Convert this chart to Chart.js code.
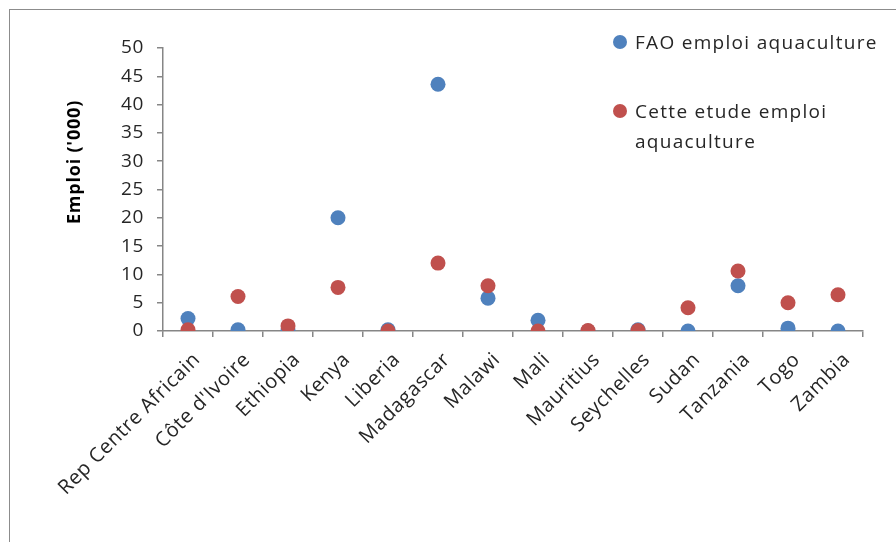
<!DOCTYPE html>
<html>
<head>
<meta charset="utf-8">
<script src="https://cdn.jsdelivr.net/npm/chart.js@4"></script>
<style>
  html, body { margin: 0; padding: 0; background: #fff; }
  #wrap { position: relative; width: 896px; height: 542px; overflow: hidden; }
  #frame { position: absolute; left: 9px; top: 9px; width: 1000px; height: 1000px;
           border: 1px solid #8c8c8c; box-sizing: border-box; }
  #chart { position: absolute; left: 0; top: 0; }
  .leg { position: absolute; font-family: 'Open Sans', sans-serif; font-size: 19px; letter-spacing: 1.3px;
         color: #262626; white-space: nowrap; }
  .dot { position: absolute; width: 14px; height: 14px; border-radius: 50%; }
</style>
</head>
<body>
<div id="wrap">
  <div id="frame"></div>
  <canvas id="chart" width="896" height="542"></canvas>
  <div class="dot" style="left:613px;top:35px;background:#4F81BD"></div>
  <div class="leg" id="leg1" style="left:635px;top:29px"></div>
  <div class="dot" style="left:613px;top:104px;background:#C0504D"></div>
  <div class="leg" id="leg2a" style="left:635px;top:98px"></div>
  <div class="leg" id="leg2b" style="left:635px;top:128px"></div>
</div>
<script>
// Countries on the category axis
const countries = ['Rep Centre Africain', "Côte d'Ivoire", 'Ethiopia', 'Kenya', 'Liberia',
  'Madagascar', 'Malawi', 'Mali', 'Mauritius', 'Seychelles', 'Sudan', 'Tanzania', 'Togo', 'Zambia'];

// Aquaculture employment, thousands of people
const faoEmploi   = [2.2, 0.2, 0.1, 20.0, 0.2, 43.6, 5.8, 1.9, 0.0, 0.2, 0.0, 8.0, 0.5, 0.0];
const etudeEmploi = [0.2, 6.1, 0.9, 7.7, 0.0, 12.0, 8.0, 0.0, 0.1, 0.1, 4.1, 10.6, 5.0, 6.4];

const seriesNames = ['FAO emploi aquaculture', 'Cette etude emploi aquaculture'];
const yTitle = "Emploi ('000)";
const yTicks = [0, 5, 10, 15, 20, 25, 30, 35, 40, 45, 50];

const BLUE = '#4F81BD';
const RED = '#C0504D';
const AXIS = '#868686';
const FONT = "'Open Sans', sans-serif";

// Legend text (second entry wraps onto two lines)
document.getElementById('leg1').textContent = seriesNames[0];
document.getElementById('leg2a').textContent = 'Cette etude emploi';
document.getElementById('leg2b').textContent = 'aquaculture';

// Slightly open letter spacing for the axis labels
const spacingPlugin = {
  id: 'spacing',
  beforeDraw(chart) { chart.ctx.letterSpacing = '0.6px'; }
};

// Vertical axis title, placed beside the value labels
const yTitlePlugin = {
  id: 'yTitle',
  afterDraw(chart) {
    const ctx = chart.ctx;
    ctx.save();
    ctx.letterSpacing = '0.8px';
    ctx.translate(75, 162);
    ctx.rotate(-Math.PI / 2);
    ctx.font = "bold 18px " + FONT;
    ctx.fillStyle = '#000';
    ctx.textAlign = 'center';
    ctx.textBaseline = 'middle';
    ctx.fillText(yTitle, 0, 0);
    ctx.restore();
  }
};

new Chart(document.getElementById('chart'), {
  type: 'line',
  data: {
    labels: countries,
    datasets: [
      {
        label: seriesNames[0],
        data: faoEmploi,
        showLine: false,
        pointRadius: 7.5,
        pointHoverRadius: 7.5,
        pointBorderWidth: 0,
        pointBackgroundColor: BLUE,
        borderColor: BLUE,
        order: 1
      },
      {
        label: seriesNames[1],
        data: etudeEmploi,
        showLine: false,
        pointRadius: 7.5,
        pointHoverRadius: 7.5,
        pointBorderWidth: 0,
        pointBackgroundColor: RED,
        borderColor: RED,
        order: 0
      }
    ]
  },
  options: {
    responsive: false,
    animation: false,
    layout: { padding: { left: 0, top: 48, right: 33, bottom: 0 } },
    plugins: {
      legend: { display: false },
      tooltip: { enabled: false }
    },
    scales: {
      x: {
        offset: true,
        grid: { offset: true, drawOnChartArea: false, drawTicks: true, tickLength: 6, color: AXIS, lineWidth: 1.5 },
        border: { display: true, color: AXIS, width: 1.5 },
        ticks: {
          autoSkip: false, minRotation: 45, maxRotation: 45, padding: 11, labelOffset: 9,
          color: '#262626', font: { family: FONT, size: 20 }
        },
        afterFit(scale) { scale.height = 211; }
      },
      y: {
        min: 0, max: 50,
        afterBuildTicks(scale) { scale.ticks = yTicks.map(v => ({ value: v })); },
        grid: { drawOnChartArea: false, drawTicks: true, tickLength: 6, color: AXIS, lineWidth: 1.5 },
        border: { display: true, color: AXIS, width: 1.5 },
        ticks: { padding: 13, color: '#262626', font: { family: FONT, size: 19 } },
        afterFit(scale) { scale.width = 163; }
      }
    }
  },
  plugins: [spacingPlugin, yTitlePlugin]
});
</script>
</body>
</html>
